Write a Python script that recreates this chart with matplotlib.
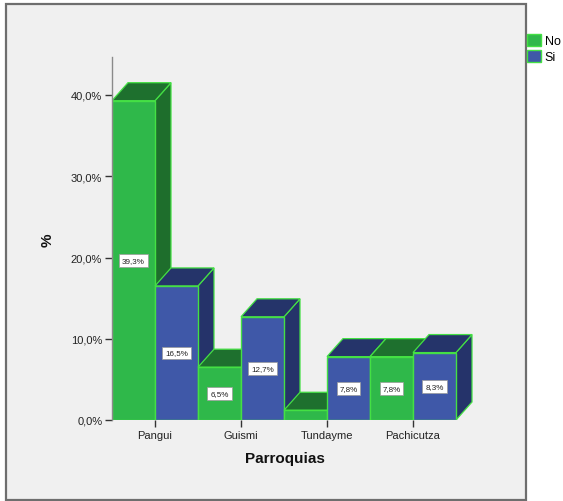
import matplotlib
matplotlib.use("Agg")
import matplotlib.pyplot as plt
from matplotlib.patches import Polygon, Rectangle, Patch

plt.rcParams['font.family'] = ['Liberation Sans', 'DejaVu Sans']

categories = ["Pangui", "Guismi", "Tundayme", "Pachicutza"]
series_names = ["No", "Si"]
no_values = [39.3, 6.5, 1.2, 7.8]
si_values = [16.5, 12.7, 7.8, 8.3]
no_labels = ["39,3%", "6,5%", "", "7,8%"]
si_labels = ["16,5%", "12,7%", "7,8%", "8,3%"]
y_ticks = [0, 10, 20, 30, 40]
y_tick_labels = ["0,0%", "10,0%", "20,0%", "30,0%", "40,0%"]

colors = {
    "No": ("#2fb84a", "#1e6e2c", "#1e702e"),   # front, side, top
    "Si": ("#3f58a8", "#25336a", "#25346a"),
}
edge = "#44e044"

W, H = 563, 502
fig = plt.figure(figsize=(W / 100, H / 100), dpi=100)
fig.patch.set_facecolor("white")

# outer frame
fig.patches.append(Rectangle((6 / W, 1 - 501 / H), 520 / W, 496 / H,
                             transform=fig.transFigure, facecolor="#f0f0f0",
                             edgecolor="#6e6e6e", linewidth=1.6, zorder=-5))

left_px, right_px, bottom_px, top_px = 112, 480, 421, 58
ax = fig.add_axes([left_px / W, 1 - bottom_px / H,
                   (right_px - left_px) / W, (bottom_px - top_px) / H])
ax.set_facecolor("none")
ax.set_zorder(2)

bar_px = 43.0
per10_px = 81.25
ymax = (bottom_px - top_px) / per10_px * 10
xmax = (right_px - left_px) / bar_px
ax.set_xlim(0, xmax)
ax.set_ylim(0, ymax)

dx = 16 / bar_px
dy = 18 / per10_px * 10

bars = []
for i, c in enumerate(categories):
    bars.append((2 * i, no_values[i], "No", no_labels[i]))
    bars.append((2 * i + 1, si_values[i], "Si", si_labels[i]))

for x0, v, s, lab in bars:
    front, side, top = colors[s]
    x1 = x0 + 1
    # side face
    ax.add_patch(Polygon([(x1, 0), (x1 + dx, dy), (x1 + dx, v + dy), (x1, v)],
                         closed=True, facecolor=side, edgecolor=edge, linewidth=0.9))
    # top face
    ax.add_patch(Polygon([(x0, v), (x0 + dx, v + dy), (x1 + dx, v + dy), (x1, v)],
                         closed=True, facecolor=top, edgecolor=edge, linewidth=0.9))
    # front face
    ax.add_patch(Rectangle((x0, 0), 1, v, facecolor=front, edgecolor=edge, linewidth=1.0))
    if lab:
        ax.text(x0 + 0.5, v / 2, lab, ha="center", va="center", fontsize=5.8,
                color="#222222",
                bbox=dict(boxstyle="square,pad=0.35", facecolor="white",
                          edgecolor="#999999", linewidth=0.5))

for sp in ["top", "right", "bottom"]:
    ax.spines[sp].set_visible(False)
ax.spines["left"].set_color("#8a8a8a")
ax.spines["left"].set_linewidth(1.0)

ax.set_yticks(y_ticks)
ax.set_yticklabels(y_tick_labels, fontsize=8, color="#222222")
ax.set_xticks([2 * i + 1 for i in range(len(categories))])
ax.set_xticklabels(categories, fontsize=8, color="#222222")
ax.tick_params(axis="both", direction="out", length=5, width=1, color="#333333", pad=2)

fig.text(48 / W, 1 - 240 / H, "%", rotation=90, ha="center", va="center",
         fontsize=11, fontweight="bold", color="#111111")
fig.text(285 / W, 1 - 459 / H, "Parroquias", ha="center", va="center",
         fontsize=11, fontweight="bold", color="#111111")

handles = [Patch(facecolor=colors[s][0], edgecolor=edge, linewidth=1.0) for s in series_names]
fig.legend(handles, series_names, loc="upper left",
           bbox_to_anchor=(527 / W, 1 - 35 / H), frameon=False, fontsize=9,
           handlelength=1.1, handleheight=1.1, handletextpad=0.3,
           labelspacing=0.2, borderpad=0.0, borderaxespad=0.0)

fig.savefig("out.png", dpi=100)
